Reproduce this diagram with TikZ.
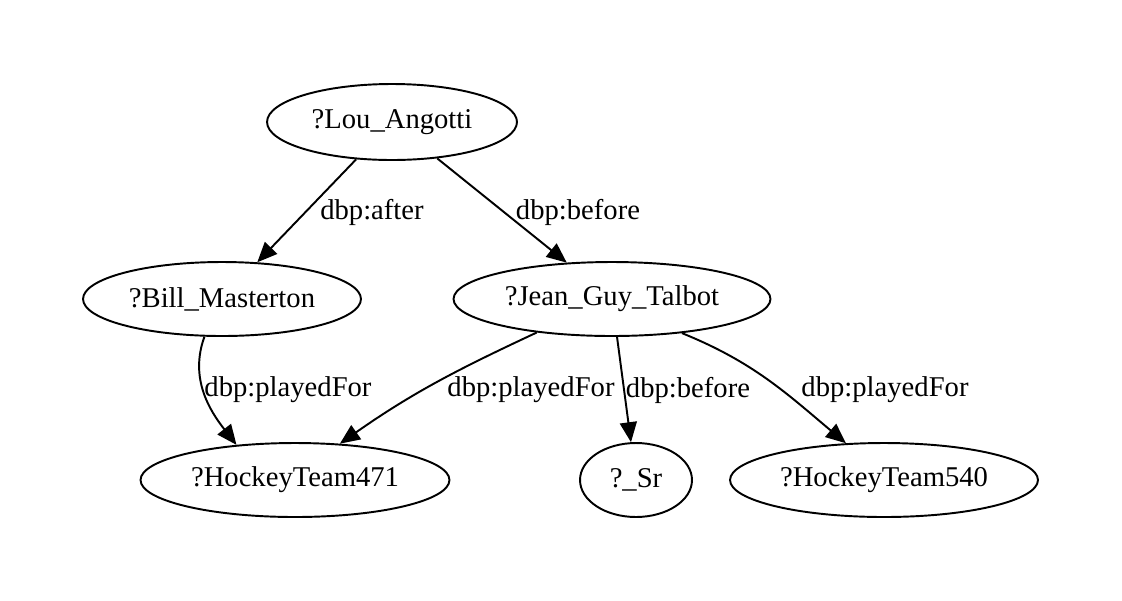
\documentclass[tikz,border=0pt]{standalone}
\usepackage{fontspec}
\setmainfont{Liberation Serif}
\usetikzlibrary{arrows.meta,shapes.geometric}
\tikzset{
  var/.style    ={ellipse,draw,line width=1.1pt,inner sep=0pt,minimum height=1.48cm,font=\fontsize{16.3}{19}\selectfont},
  rel/.style    ={line width=1.1pt,-{Triangle[length=0.4cm,width=0.34cm]}},
  lbl/.style    ={inner sep=0pt,font=\fontsize{16.3}{19}\selectfont},
}
\begin{document}
\begin{tikzpicture}[x=0.02cm,y=-0.02cm]
  \useasboundingbox (0,0) rectangle (1122,600);
  \node[var,minimum width=5cm,minimum height=1.52cm] (lou) at (392,122) {?Lou\_Angotti};
  \node[var,minimum width=5.56cm]  (bill)  at (222,299) {?Bill\_Masterton};
  \node[var,minimum width=6.34cm]  (jean)  at (612,299) {?Jean\_Guy\_Talbot};
  \node[var,minimum width=6.18cm]  (ht471) at (295,480) {?HockeyTeam471};
  \node[var,minimum width=2.24cm]  (sr)    at (636,480) {?\_Sr};
  \node[var,minimum width=6.16cm]  (ht540) at (884,480) {?HockeyTeam540};
  \draw[rel] (lou) -- (bill);
  \draw[rel] (lou) -- (jean);
  \draw[rel] (bill.245) to[out=-110,in=128] (ht471.149);
  \draw[rel] (jean.204) to[out=-155,in=35] (ht471.39);
  \draw[rel] (jean) -- (sr);
  \draw[rel] (jean.-26) to[out=-22,in=140] (ht540.136);
  \node[lbl] (after)   at (372,212) {dbp:after};
  \node[lbl] (before1) at (578,212) {dbp:before};
  \node[lbl] (pf1)     at (288,390) {dbp:playedFor};
  \node[lbl] (pf2)     at (531,390) {dbp:playedFor};
  \node[lbl] (before2) at (688,390) {dbp:before};
  \node[lbl] (pf3)     at (885,390) {dbp:playedFor};
\end{tikzpicture}
\end{document}
